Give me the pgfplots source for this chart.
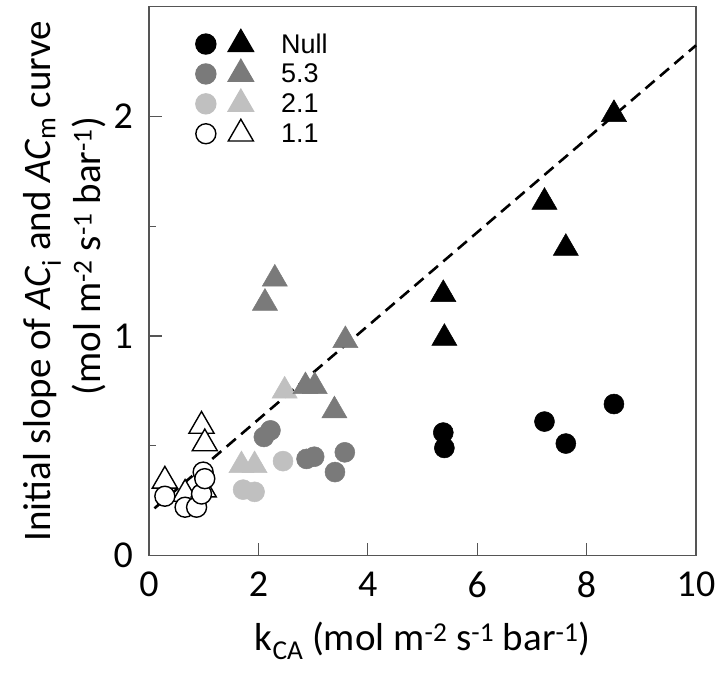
\documentclass[border=0pt]{standalone}
\usepackage{pgfplots}
\pgfplotsset{compat=1.18}
\usepackage{fontspec}
\setmainfont{Carlito}
\newfontfamily\legfont{Liberation Sans}
\definecolor{darkg}{RGB}{122,122,122}
\definecolor{lightg}{RGB}{192,192,192}
\definecolor{axisg}{RGB}{85,85,85}
\newcommand{\legimg}[2]{\addlegendimage{legend image code/.code={%
  \draw[fill=#1, draw=#2, line width=1.4pt] (0pt,0pt) circle (10pt);
  \draw[fill=#1, draw=#2, line width=1.4pt, line join=miter] (35pt,14.5pt) -- (22.44pt,-7.25pt) -- (47.56pt,-7.25pt) -- cycle;}}}
\begin{document}
\begin{tikzpicture}
\begin{axis}[
  scale only axis,
  width=547pt, height=548.8pt,
  xmin=0, xmax=10, ymin=0, ymax=2.5,
  clip=false,
  axis line style={axisg, line width=1.3pt},
  xtick={0,2,4,6,8,10},
  ytick={0,1,2},
  minor ytick={0.5,1.5},
  tick align=inside,
  xtick pos=left, ytick pos=left,
  major tick length=13pt, minor tick length=7pt,
  every tick/.style={axisg, line width=1.3pt},
  /pgf/number format/assume math mode=true,
  tick label style={font=\fontsize{38}{40}\selectfont},
  xticklabel style={inner sep=0pt, yshift=-16pt},
  yticklabel style={inner sep=0pt, xshift=-16pt},
  xlabel={k\textsubscript{CA} (mol m\textsuperscript{-2} s\textsuperscript{-1} bar\textsuperscript{-1})},
  xlabel style={font=\fontsize{39}{40}\selectfont, at={(axis description cs:0.5,0)}, anchor=base, yshift=-95pt, inner sep=0pt},
  ylabel={Initial slope of \textit{AC}\textsubscript{i} and \textit{AC}\textsubscript{m} curve\\\hspace*{50pt}(mol m\textsuperscript{-2} s\textsuperscript{-1} bar\textsuperscript{-1})},
  ylabel style={font=\fontsize{39}{50}\selectfont, align=center, at={(axis description cs:-0.078,0.5)}, anchor=south, rotate=0, inner sep=0pt},
  legend style={draw=none, fill=none, inner sep=0pt, at={(axis cs:0.84,2.40)}, anchor=north west,
    font=\legfont\fontsize{27}{27}\selectfont, column sep=27pt, row sep=4pt,
    nodes={inner sep=0pt}},
  legend cell align=left,
]
\legimg{black}{black}\addlegendentry{Null}
\legimg{darkg}{darkg}\addlegendentry{5.3}
\legimg{lightg}{lightg}\addlegendentry{2.1}
\legimg{white}{black}\addlegendentry{1.1}

% 1.1 triangles
\addplot[only marks, mark=triangle*, mark size=14.5pt, mark options={fill=white, draw=black, line width=1.4pt}, forget plot]
  coordinates {(0.29,0.34) (0.66,0.28) (1.00,0.30) (0.96,0.59) (1.02,0.51)};
% 2.1 triangles
\addplot[only marks, mark=triangle*, mark size=14.5pt, mark options={fill=lightg, draw=lightg, line width=0.5pt}, forget plot]
  coordinates {(1.69,0.41) (1.93,0.41) (2.48,0.75)};
% 5.3 triangles
\addplot[only marks, mark=triangle*, mark size=14.5pt, mark options={fill=darkg, draw=darkg, line width=0.5pt}, forget plot]
  coordinates {(2.12,1.15) (2.30,1.26) (2.86,0.77) (3.03,0.77) (3.39,0.66) (3.59,0.98)};
% Null triangles
\addplot[only marks, mark=triangle*, mark size=14.5pt, mark options={fill=black, draw=black, line width=0.5pt}, forget plot]
  coordinates {(5.38,1.19) (5.40,0.99) (7.23,1.61) (7.62,1.40) (8.50,2.01)};
% 1.1 circles
\addplot[only marks, mark=*, mark size=10pt, mark options={fill=white, draw=black, line width=1.4pt}, forget plot]
  coordinates {(0.29,0.27) (0.66,0.22) (0.87,0.22) (0.96,0.28) (0.99,0.38) (1.02,0.35)};
% 2.1 circles
\addplot[only marks, mark=*, mark size=10pt, mark options={fill=lightg, draw=lightg, line width=0.5pt}, forget plot]
  coordinates {(1.72,0.30) (1.93,0.29) (2.45,0.43)};
% 5.3 circles
\addplot[only marks, mark=*, mark size=10pt, mark options={fill=darkg, draw=darkg, line width=0.5pt}, forget plot]
  coordinates {(2.10,0.54) (2.22,0.57) (2.88,0.44) (3.02,0.45) (3.40,0.38) (3.58,0.47)};
% Null circles
\addplot[only marks, mark=*, mark size=10pt, mark options={fill=black, draw=black, line width=0.5pt}, forget plot]
  coordinates {(5.38,0.56) (5.40,0.49) (7.23,0.61) (7.62,0.51) (8.50,0.69)};
% regression line
\addplot[black, line width=2.6pt, dash pattern=on 12pt off 7pt, forget plot]
  coordinates {(0.1,0.215) (10,2.324)};
\end{axis}
\path ([xshift=-149pt,yshift=-116.5pt]current axis.south west) rectangle ([xshift=24pt,yshift=6.7pt]current axis.north east);
\end{tikzpicture}
\end{document}
